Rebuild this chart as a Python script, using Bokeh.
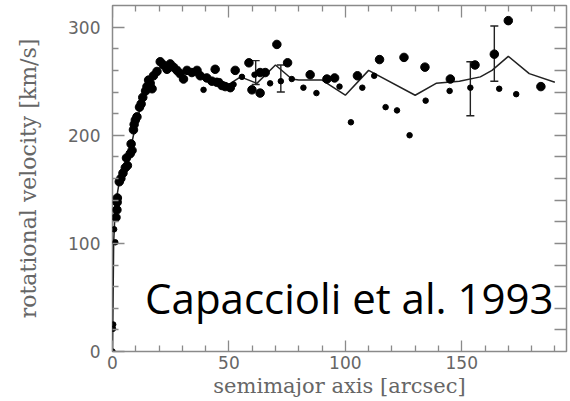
from bokeh.plotting import figure
from bokeh.models import (LinearAxis, FixedTicker, Whisker, TeeHead,
                          ColumnDataSource, Label, Range1d)
from bokeh.embed import file_html
from bokeh.resources import INLINE

# ---- data ----
big_x = [1.5, 1.9, 2.0, 2.1, 2.9, 3.6, 4.5, 5.5, 6.0, 6.4, 7.6, 8.0, 8.4, 9.0, 9.3,
         9.8, 10.5, 11.6, 12.3, 13.0, 14.2, 14.8, 15.5, 16.2, 17.0, 17.6, 19.1,
         20.5, 21.9, 23.4, 24.8, 26.2, 27.7, 29.0, 30.5, 32.0, 34.1, 36.3, 37.7,
         40.5, 42.7, 44.1, 44.8, 47.0, 48.4, 50.6, 52.7, 58.6, 59.9, 63.4, 63.4,
         65.6, 70.6, 75.2, 84.9, 92.1, 95.4, 105.2, 114.7, 125.2, 134.2, 145.1,
         155.7, 164.0, 170.0, 184.0]
big_y = [124, 131, 138, 142, 157, 160, 165, 170, 179, 172, 183, 192, 186, 205, 210,
         214, 217, 226, 229, 235, 241, 245, 251, 248, 243, 255, 259,
         268, 265, 261, 266, 263, 260, 257, 252, 260, 258, 260, 255,
         253, 250, 261, 249, 246, 245, 244, 260, 267, 242, 239, 258,
         258, 284, 267, 256, 252, 253, 255, 270, 272, 263, 252,
         265, 275, 306, 245]

small_x = [0.0, 0.2, 0.3, 0.7, 1.2, 39.1, 46.0, 52.0, 55.6, 61.0, 67.7, 72.3, 77.0,
           82.0, 87.6, 97.5, 102.4, 107.3, 112.4, 117.3, 122.2, 127.6, 134.5,
           144.8, 153.7, 166.1, 173.4]
small_y = [0, 21, 25, 113, 101, 242, 250, 247, 254, 256, 248, 250, 252,
           244, 239, 245, 212, 244, 255, 226, 223, 200, 232,
           241, 244, 243, 238]

err_x = [61.5, 72.3, 153.7, 164.0]
err_lo = [247, 240, 218, 250]
err_hi = [269, 265, 268, 301]

line_x = [0, 0.5, 1.0, 2.0, 3.0, 5.0, 7.0, 9.0, 11.0, 13.0, 15.0, 17.0, 20.0, 23.0,
          27.0, 31.0, 35.0, 40.0, 45.0, 50.0, 55.0, 62.0, 70.0, 77.0, 80.0, 90.0,
          100.0, 110.0, 130.0, 139.0, 149.0, 158.0, 163.0, 170.0, 179.0, 190.0]
line_y = [0, 100, 125, 145, 158, 168, 180, 200, 218, 232, 245, 253, 262, 264,
          261, 258, 256, 251, 252, 247, 254, 248, 265, 252, 251, 251,
          237, 260, 237, 248, 250, 254, 260, 273, 257, 249]

x_lo, x_hi = 0, 195
y_lo, y_hi = 0, 320
x_major = [0, 50, 100, 150]
x_minor = [10, 20, 30, 40, 60, 70, 80, 90, 110, 120, 130, 140, 160, 170, 180, 190]
y_major = [0, 100, 200, 300]
y_minor = [20, 40, 60, 80, 120, 140, 160, 180, 220, 240, 260, 280]
y_right = [20, 40, 60, 80, 100, 120, 140, 160, 180, 200, 220, 240, 260, 280, 300]

GRAY = "#8a8a8a"
LABEL_GRAY = "#666666"

p = figure(width=570, height=401, output_backend="svg", toolbar_location=None,
           x_range=Range1d(x_lo, x_hi), y_range=Range1d(y_lo, y_hi),
           min_border_left=112, min_border_right=4, min_border_top=5,
           min_border_bottom=50)
p.xgrid.visible = False
p.ygrid.visible = False
p.outline_line_color = GRAY
p.outline_line_width = 1.5
p.background_fill_color = "white"
p.border_fill_color = "white"


def style(ax, major_len, minor_len):
    ax.axis_line_color = None
    ax.major_tick_in = major_len
    ax.major_tick_out = 0
    ax.minor_tick_in = minor_len
    ax.minor_tick_out = 0
    ax.major_tick_line_color = GRAY
    ax.minor_tick_line_color = GRAY
    ax.major_tick_line_width = 1.3
    ax.minor_tick_line_width = 1.3


xa = p.xaxis[0]
xa.ticker = FixedTicker(ticks=x_major, minor_ticks=x_minor)
style(xa, 11, 6)
xa.major_label_text_font = "DejaVu Sans"
xa.major_label_text_font_size = "17px"
xa.major_label_text_color = LABEL_GRAY
xa.major_label_standoff = 4
xa.axis_label = "semimajor axis [arcsec]"
xa.axis_label_text_font = "DejaVu Serif"
xa.axis_label_text_font_size = "21px"
xa.axis_label_text_font_style = "normal"
xa.axis_label_text_color = LABEL_GRAY
xa.axis_label_standoff = 2

ya = p.yaxis[0]
ya.ticker = FixedTicker(ticks=y_major, minor_ticks=y_minor)
style(ya, 12, 6)
ya.major_label_text_font = "DejaVu Sans"
ya.major_label_text_font_size = "17px"
ya.major_label_text_color = LABEL_GRAY
ya.major_label_standoff = 12
ya.axis_label = "rotational velocity [km/s]"
ya.axis_label_text_font = "DejaVu Serif"
ya.axis_label_text_font_size = "22px"
ya.axis_label_text_font_style = "normal"
ya.axis_label_text_color = LABEL_GRAY
ya.axis_label_standoff = 24

# tick-only axes on top and right, pinned to the range ends (take no space)
top = LinearAxis(ticker=FixedTicker(ticks=x_major, minor_ticks=x_minor),
                 fixed_location=y_hi, major_label_text_color=None,
                 major_label_text_font_size="1px")
style(top, 12, 6)
p.add_layout(top, "above")

right = LinearAxis(ticker=FixedTicker(ticks=y_right, minor_ticks=[]),
                   fixed_location=x_hi, major_label_text_color=None,
                   major_label_text_font_size="1px")
style(right, 12, 6)
p.add_layout(right, "right")

# model curve
p.line(line_x, line_y, line_color="#222222", line_width=1.5)

# error bars
err_src = ColumnDataSource(dict(x=err_x, lo=err_lo, hi=err_hi))
wh = Whisker(base="x", lower="lo", upper="hi", source=err_src,
             line_color="#222222", line_width=1.4,
             upper_head=TeeHead(size=8, line_color="#222222", line_width=1.4),
             lower_head=TeeHead(size=8, line_color="#222222", line_width=1.4))
p.add_layout(wh)

# data points
p.scatter(small_x, small_y, size=5.5, color="black")
p.scatter(big_x, big_y, size=8.5, color="black")

lab = Label(x=14, y=50, text="Capaccioli et al. 1993", text_font="Open Sans",
            text_font_size="42px", text_color="black",
            text_baseline="alphabetic", text_align="left")
p.add_layout(lab)

open("out.html", "w").write(file_html(p, INLINE))
